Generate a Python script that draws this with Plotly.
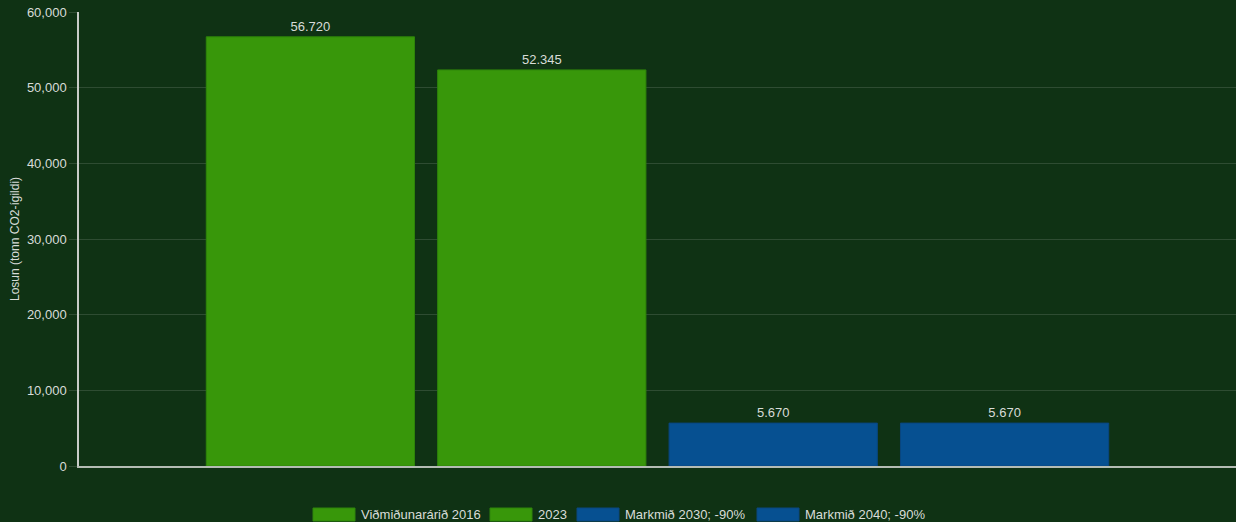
import plotly.graph_objects as go

# Data
series_names = ["Viðmiðunarárið 2016", "2023", "Markmið 2030; -90%", "Markmið 2040; -90%"]
series_values = [56720, 52345, 5670, 5670]
series_colors = ["#38970a", "#38970a", "#065091", "#065091"]
border_colors = ["#2e850a", "#2e850a", "#0a4680", "#0a4680"]
category = [""]
y_ticks = [0, 10000, 20000, 30000, 40000, 50000, 60000]
y_title = "Losun (tonn CO2-ígildi)"

BG = "#0f3214"
TXT = "#d8dcd8"
FONT = "Liberation Sans, Arial, sans-serif"

W, H = 1236, 522
ML, MR, MT, MB = 79, 0, 12, 56

fig = go.Figure()
for name, val, col, bcol in zip(series_names, series_values, series_colors, border_colors):
    fig.add_trace(go.Bar(
        x=category, y=[val], name=name,
        marker=dict(color=col, line=dict(color=bcol, width=1)),
        text=[f"{val:,}".replace(",", ".")],
        textposition="outside", cliponaxis=False,
        textfont=dict(color=TXT, size=13, family=FONT),
        showlegend=False,
    ))

# custom legend (wide swatches like the reference)
pw = W - ML - MR
ph = H - MT - MB
def px(x):
    return (x - ML) / pw
def py(y):
    return (H - MB - y) / ph

legend_x = [313, 490, 577, 757]
sw_w, sw_top, sw_bot = 42, 508, 521
shapes = []
annotations = []
for name, col, bcol, lx in zip(series_names, series_colors, border_colors, legend_x):
    shapes.append(dict(type="rect", xref="paper", yref="paper",
                       x0=px(lx), x1=px(lx + sw_w), y0=py(sw_bot), y1=py(sw_top),
                       fillcolor=col, line=dict(color=bcol, width=1)))
    annotations.append(dict(xref="paper", yref="paper", x=px(lx + sw_w + 4), y=py((sw_top + sw_bot) / 2),
                            xanchor="left", yanchor="middle", text=name, showarrow=False,
                            font=dict(color=TXT, size=13, family=FONT)))

# y-axis title as rotated text
annotations.append(dict(xref="paper", yref="paper", x=px(15), y=0.5,
                        xanchor="center", yanchor="middle", textangle=-90,
                        text=y_title, showarrow=False,
                        font=dict(color=TXT, size=12, family=FONT)))

fig.update_layout(
    width=W, height=H,
    margin=dict(l=ML, r=MR, t=MT, b=MB),
    paper_bgcolor=BG, plot_bgcolor=BG,
    barmode="group", bargap=0.2, bargroupgap=0.1,
    font=dict(family=FONT, color=TXT, size=13),
    showlegend=False,
    shapes=shapes, annotations=annotations,
    xaxis=dict(showticklabels=False, showgrid=False, zeroline=False,
               showline=True, linecolor="#b4bcb4", linewidth=2, ticks=""),
    yaxis=dict(range=[0, 60000], tickvals=y_ticks, tickformat=",",
               showgrid=True, gridcolor="rgba(255,255,255,0.13)", gridwidth=1,
               zeroline=False, showline=True, linecolor="#c8ccc8", linewidth=1.5,
               ticks="outside", ticklen=8, tickcolor="rgba(255,255,255,0.13)",
               tickfont=dict(color=TXT, size=13, family=FONT)),
)

fig.write_html("out.html", config={"displayModeBar": False},
               post_script="document.body.style.margin='0';document.body.style.background='" + BG + "';")
